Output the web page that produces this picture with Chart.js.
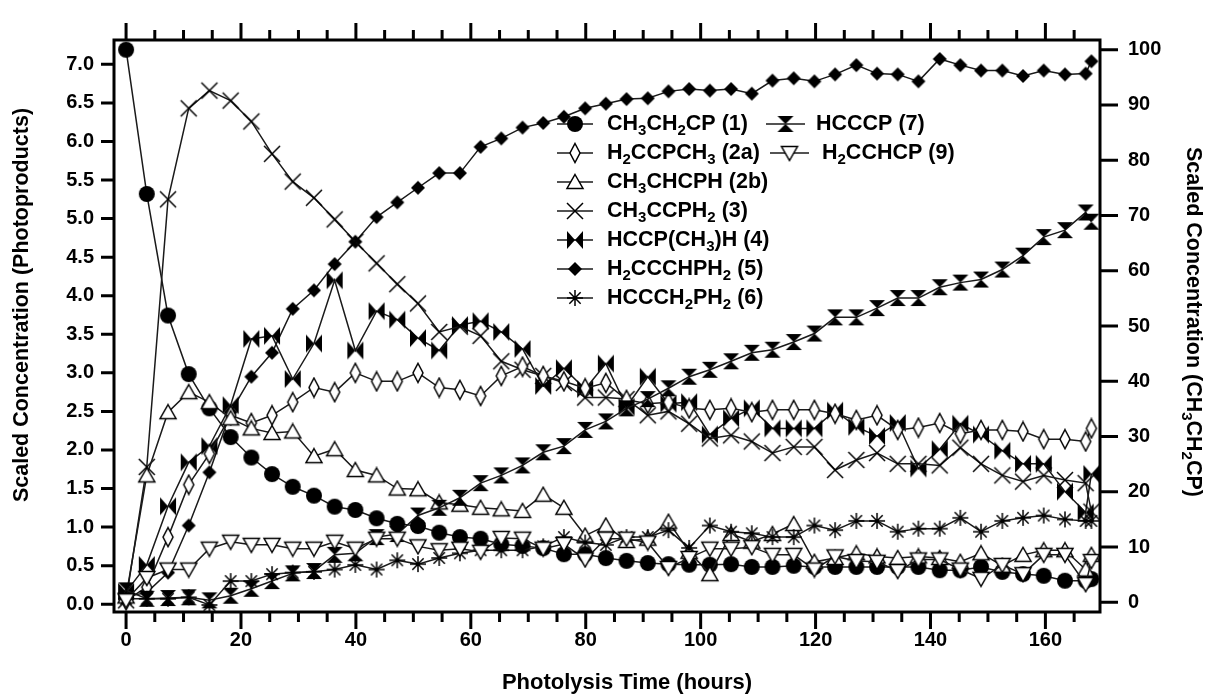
<!DOCTYPE html>
<html>
<head>
<meta charset="utf-8">
<script src="https://cdn.jsdelivr.net/npm/chart.js@4.4.1/dist/chart.umd.min.js"></script>
<style>
html, body { margin: 0; padding: 0; background: #fff; }
#wrap { width: 1207px; height: 697px; position: relative; }
</style>
</head>
<body>
<div id="wrap"><canvas id="chart"></canvas></div>
<script>
// photolysis time (hours)
const hours = [0, 3.6, 7.3, 10.9, 14.5, 18.2, 21.8, 25.4, 29.0, 32.7,
  36.3, 39.9, 43.6, 47.2, 50.8, 54.5, 58.1, 61.7, 65.3, 69.0,
  72.6, 76.2, 79.9, 83.5, 87.1, 90.8, 94.4, 98.0, 101.6, 105.3,
  108.9, 112.5, 116.2, 119.8, 123.4, 127.1, 130.7, 134.3, 137.9, 141.6,
  145.2, 148.8, 152.5, 156.1, 159.7, 163.4, 167.0, 168.0];

// CH3CH2CP (1) - right axis
const s1 = [100, 73.9, 51.9, 41.3, 35.1, 29.9, 26.2, 23.2, 20.9, 19.3,
  17.3, 16.7, 15.2, 14.2, 13.8, 12.6, 11.8, 11.5, 10.5, 10.2,
  9.8, 8.7, 8.7, 8.0, 7.5, 7.1, 6.9, 6.8, 6.8, 6.9,
  6.4, 6.4, 6.6, 6.4, 6.4, 6.4, 6.4, 6.4, 6.4, 5.8,
  5.8, 6.4, 5.5, 5.1, 4.8, 3.9, 3.9, 4.2];
// photoproducts - left axis
const s2a = [0.05, 0.22, 0.87, 1.55, 1.95, 2.45, 2.35, 2.45, 2.62, 2.81,
  2.75, 3.0, 2.89, 2.89, 3.0, 2.81, 2.78, 2.70, 2.96, 3.08,
  2.96, 2.89, 2.80, 2.87, 2.65, 2.6, 2.62, 2.54, 2.52, 2.54,
  2.49, 2.52, 2.52, 2.52, 2.47, 2.39, 2.45, 2.26, 2.29, 2.35,
  2.21, 2.26, 2.26, 2.24, 2.14, 2.14, 2.11, 2.28];
const s2b = [0.1, 1.67, 2.49, 2.75, 2.62, 2.41, 2.28, 2.22, 2.24, 1.92,
  2.01, 1.74, 1.67, 1.50, 1.49, 1.32, 1.29, 1.25, 1.23, 1.21,
  1.42, 1.25, 0.89, 1.02, 0.82, 0.85, 1.07, 0.68, 0.39, 0.91,
  0.81, 0.91, 1.04, 0.55, 0.60, 0.66, 0.62, 0.60, 0.62, 0.60,
  0.55, 0.66, 0.5, 0.64, 0.70, 0.70, 0.45, 0.64];
const s3 = [0.05, 1.78, 5.25, 6.43, 6.66, 6.53, 6.26, 5.84, 5.48, 5.27,
  4.99, 4.70, 4.42, 4.15, 3.90, 3.53, 3.6, 3.48, 3.15, 3.04,
  2.96, 2.87, 2.68, 2.68, 2.66, 2.45, 2.5, 2.34, 2.15, 2.19,
  2.11, 1.96, 2.04, 2.04, 1.74, 1.87, 1.96, 1.82, 1.82, 1.80,
  2.03, 1.82, 1.67, 1.59, 1.67, 1.61, 1.57, 1.2];
const s4 = [0.16, 0.51, 1.27, 1.84, 2.05, 2.58, 3.44, 3.48, 2.92, 3.38,
  4.20, 3.29, 3.80, 3.69, 3.45, 3.29, 3.62, 3.67, 3.53, 3.31,
  2.83, 3.06, 2.79, 3.12, 2.56, 2.95, 2.6, 2.62, 2.2, 2.41,
  2.54, 2.28, 2.28, 2.28, 2.51, 2.30, 2.18, 2.35, 1.76, 2.01,
  2.34, 2.2, 1.99, 1.82, 1.82, 1.46, 1.19, 1.69];
const s5 = [0.1, 0.15, 0.41, 1.02, 1.71, 2.49, 2.95, 3.26, 3.83, 4.07,
  4.41, 4.70, 5.02, 5.21, 5.40, 5.59, 5.59, 5.93, 6.04, 6.18,
  6.24, 6.32, 6.43, 6.49, 6.55, 6.56, 6.65, 6.68, 6.66, 6.68,
  6.62, 6.79, 6.82, 6.78, 6.87, 6.99, 6.88, 6.87, 6.78, 7.07,
  6.99, 6.92, 6.92, 6.85, 6.92, 6.87, 6.88, 7.04];
const s6 = [0.07, 0.07, 0.07, 0.09, -0.01, 0.3, 0.3, 0.39, 0.41, 0.42,
  0.45, 0.51, 0.45, 0.57, 0.52, 0.60, 0.66, 0.70, 0.70, 0.70,
  0.75, 0.87, 0.8, 0.77, 0.87, 0.87, 0.96, 0.73, 1.02, 0.94,
  0.92, 0.87, 0.87, 1.02, 0.96, 1.08, 1.08, 0.94, 0.98, 0.98,
  1.12, 0.94, 1.08, 1.12, 1.15, 1.10, 1.08, 1.08];
const s7 = [0.18, 0.07, 0.08, 0.09, 0.05, 0.11, 0.2, 0.30, 0.40, 0.43,
  0.64, 0.66, 0.87, 0.91, 1.15, 1.25, 1.38, 1.57, 1.67, 1.80,
  1.97, 2.05, 2.26, 2.37, 2.54, 2.66, 2.80, 2.95, 3.04, 3.15,
  3.26, 3.30, 3.40, 3.51, 3.72, 3.72, 3.84, 3.97, 3.97, 4.11,
  4.17, 4.21, 4.34, 4.52, 4.76, 4.85, 5.08, 4.96];
const s9 = [0.05, 0.34, 0.45, 0.45, 0.72, 0.81, 0.77, 0.77, 0.72, 0.72,
  0.81, 0.72, 0.85, 0.85, 0.75, 0.70, 0.72, 0.68, 0.86, 0.85,
  0.72, 0.78, 0.58, 0.85, 0.85, 0.8, 0.47, 0.6, 0.72, 0.72,
  0.74, 0.64, 0.64, 0.45, 0.62, 0.56, 0.55, 0.43, 0.58, 0.58,
  0.45, 0.33, 0.51, 0.39, 0.64, 0.64, 0.26, 0.56];

const xTicks = [0, 20, 40, 60, 80, 100, 120, 140, 160];
const leftTicks = [0, 0.5, 1, 1.5, 2, 2.5, 3, 3.5, 4, 4.5, 5, 5.5, 6, 6.5, 7];
const rightTicks = [0, 10, 20, 30, 40, 50, 60, 70, 80, 90, 100];

const FONT = '"Liberation Sans", Arial, sans-serif';

// marker images, drawn by Chart.js as pointStyle
function marker(w, h, draw) {
    const c = document.createElement('canvas');
    c.width = w; c.height = h;
    const g = c.getContext('2d');
    g.translate(w / 2, h / 2);
    g.lineWidth = 1.5;
    g.strokeStyle = '#000';
    g.fillStyle = '#000';
    draw(g);
    return c;
}
function poly(g, p, fill) {
    g.beginPath();
    g.moveTo(p[0][0], p[0][1]);
    for (let i = 1; i < p.length; i++) g.lineTo(p[i][0], p[i][1]);
    g.closePath();
    if (fill === 'white') { g.fillStyle = '#fff'; g.fill(); g.fillStyle = '#000'; g.stroke(); }
    else { g.fill(); }
}
const mk = {
    circle: marker(18, 18, g => { g.beginPath(); g.arc(0, 0, 8, 0, Math.PI * 2); g.fill(); }),
    thinDiamond: marker(14, 22, g => poly(g, [[0, -9.5], [5, 0], [0, 9.5], [-5, 0]], 'white')),
    triUp: marker(20, 18, g => poly(g, [[0, -7.5], [8, 6.5], [-8, 6.5]], 'white')),
    cross: marker(20, 20, g => {
        g.beginPath(); g.moveTo(-8, -8); g.lineTo(8, 8); g.moveTo(-8, 8); g.lineTo(8, -8); g.stroke();
    }),
    bowtie: marker(20, 20, g => {
        poly(g, [[-8, -9], [0, 0], [-8, 9]]); poly(g, [[8, -9], [0, 0], [8, 9]]);
    }),
    diamond: marker(16, 16, g => poly(g, [[0, -7], [7, 0], [0, 7], [-7, 0]])),
    star: marker(20, 20, g => {
        g.beginPath();
        for (let a = 0; a < 4; a++) {
            const r = a * Math.PI / 4;
            g.moveTo(-8 * Math.cos(r), -8 * Math.sin(r));
            g.lineTo(8 * Math.cos(r), 8 * Math.sin(r));
        }
        g.stroke();
    }),
    hourglass: marker(20, 20, g => {
        poly(g, [[-8, -8], [8, -8], [0, 0]]); poly(g, [[-8, 8], [8, 8], [0, 0]]);
    }),
    triDown: marker(20, 18, g => poly(g, [[-8, -6.5], [8, -6.5], [0, 7.5]], 'white'))
};

function pts(vals) {
    return hours.map((t, i) => ({ x: t, y: vals[i] }));
}
function series(label, vals, style, axis) {
    return {
        label: label,
        data: pts(vals),
        yAxisID: axis || 'yL',
        borderColor: '#1a1a1a',
        borderWidth: 1.5,
        pointStyle: style,
        pointRadius: 8,
        showLine: true,
        fill: false,
        tension: 0
    };
}

const datasets = [
    series('H_2CCHCP (9)', s9, mk.triDown),
    series('HCCCH_2PH_2 (6)', s6, mk.star),
    series('HCCCP (7)', s7, mk.hourglass),
    series('CH_3CHCPH (2b)', s2b, mk.triUp),
    series('H_2CCPCH_3 (2a)', s2a, mk.thinDiamond),
    series('CH_3CCPH_2 (3)', s3, mk.cross),
    series('HCCP(CH_3)H (4)', s4, mk.bowtie),
    series('H_2CCCHPH_2 (5)', s5, mk.diamond),
    series('CH_3CH_2CP (1)', s1, mk.circle, 'yR')
];

// text with '_d' subscripts
function drawRich(ctx, s, x, y, size, align) {
    const parts = [];
    let buf = '';
    for (let i = 0; i < s.length; i++) {
        if (s[i] === '_') {
            if (buf) parts.push({ t: buf, sub: false });
            buf = '';
            parts.push({ t: s[i + 1], sub: true });
            i++;
        } else buf += s[i];
    }
    if (buf) parts.push({ t: buf, sub: false });
    const big = 'bold ' + size + 'px ' + FONT;
    const small = 'bold ' + Math.round(size * 0.68) + 'px ' + FONT;
    let w = 0;
    parts.forEach(p => { ctx.font = p.sub ? small : big; p.w = ctx.measureText(p.t).width; w += p.w; });
    let cx = align === 'center' ? x - w / 2 : x;
    ctx.textBaseline = 'middle';
    ctx.textAlign = 'left';
    ctx.fillStyle = '#000';
    parts.forEach(p => {
        ctx.font = p.sub ? small : big;
        ctx.fillText(p.t, cx, p.sub ? y + size * 0.32 : y);
        cx += p.w;
    });
}

const legendItems = [
    { label: 'CH_3CH_2CP (1)', x0: 557, x1: 593, tx: 607, y: 124 },
    { label: 'H_2CCPCH_3 (2a)', x0: 557, x1: 593, tx: 607, y: 153 },
    { label: 'CH_3CHCPH (2b)', x0: 557, x1: 593, tx: 607, y: 182 },
    { label: 'CH_3CCPH_2 (3)', x0: 557, x1: 593, tx: 607, y: 211 },
    { label: 'HCCP(CH_3)H (4)', x0: 557, x1: 593, tx: 607, y: 240 },
    { label: 'H_2CCCHPH_2 (5)', x0: 557, x1: 593, tx: 607, y: 269 },
    { label: 'HCCCH_2PH_2 (6)', x0: 557, x1: 593, tx: 607, y: 298 },
    { label: 'HCCCP (7)', x0: 766, x1: 805, tx: 816, y: 124 },
    { label: 'H_2CCHCP (9)', x0: 770, x1: 809, tx: 822, y: 153 }
];

const framePlugin = {
    id: 'frame',
    afterDraw(chart) {
        const ctx = chart.ctx;
        const a = chart.chartArea;
        const xs = chart.scales.x, yl = chart.scales.yL, yr = chart.scales.yR;
        ctx.save();
        ctx.strokeStyle = '#000';
        ctx.lineWidth = 3;
        ctx.strokeRect(a.left, a.top, a.right - a.left, a.bottom - a.top);
        ctx.beginPath();
        for (let v = 0; v <= 165; v += 5) {
            const px = xs.getPixelForValue(v);
            const len = v % 20 === 0 ? 17 : 10;
            ctx.moveTo(px, a.bottom); ctx.lineTo(px, a.bottom + len);
            ctx.moveTo(px, a.top); ctx.lineTo(px, a.top - len);
        }
        leftTicks.forEach(v => {
            const py = yl.getPixelForValue(v);
            ctx.moveTo(a.left, py); ctx.lineTo(a.left - 13, py);
        });
        rightTicks.forEach(v => {
            const py = yr.getPixelForValue(v);
            ctx.moveTo(a.right, py); ctx.lineTo(a.right + 18, py);
        });
        ctx.stroke();

        // axis titles
        drawRich(ctx, 'Photolysis Time (hours)', 627, 683, 22, 'center');
        ctx.save();
        ctx.translate(22, 305);
        ctx.rotate(-Math.PI / 2);
        drawRich(ctx, 'Scaled Concentration (Photoproducts)', 0, 0, 21.5, 'center');
        ctx.restore();
        ctx.save();
        ctx.translate(1193, 322);
        ctx.rotate(Math.PI / 2);
        drawRich(ctx, 'Scaled Concentration (CH_3CH_2CP)', 0, 0, 21.5, 'center');
        ctx.restore();

        // legend
        legendItems.forEach(it => {
            const ds = chart.data.datasets.find(d => d.label === it.label);
            ctx.lineWidth = 1.5;
            ctx.strokeStyle = '#1a1a1a';
            ctx.beginPath();
            ctx.moveTo(it.x0, it.y); ctx.lineTo(it.x1, it.y);
            ctx.stroke();
            const img = ds.pointStyle;
            ctx.drawImage(img, (it.x0 + it.x1) / 2 - img.width / 2, it.y - img.height / 2);
            drawRich(ctx, it.label, it.tx, it.y, 21.5, 'left');
        });
        ctx.restore();
    }
};

function fixTicks(list) {
    return function (scale) { scale.ticks = list.map(v => ({ value: v })); };
}
const tickFont = { family: FONT, size: 20, weight: 'bold' };

new Chart(document.getElementById('chart').getContext('2d'), {
    type: 'scatter',
    data: { datasets: datasets },
    options: {
        responsive: true,
        maintainAspectRatio: false,
        animation: false,
        layout: { padding: { top: 25, left: 0, right: 0, bottom: 0 } },
        plugins: { legend: { display: false }, tooltip: { enabled: false } },
        scales: {
            x: {
                type: 'linear',
                position: 'bottom',
                min: -2.1,
                max: 169.5,
                afterBuildTicks: fixTicks(xTicks),
                afterFit: s => { s.height = 85; },
                grid: { display: false, drawTicks: false },
                border: { display: false },
                ticks: { font: tickFont, color: '#000', padding: 16, autoSkip: false, maxRotation: 0 }
            },
            yL: {
                type: 'linear',
                position: 'left',
                min: -0.101,
                max: 7.316,
                afterBuildTicks: fixTicks(leftTicks),
                afterFit: s => { s.width = 114; },
                grid: { display: false, drawTicks: false },
                border: { display: false },
                ticks: { font: tickFont, color: '#000', padding: 20, autoSkip: false, callback: v => v.toFixed(1) }
            },
            yR: {
                type: 'linear',
                position: 'right',
                min: -1.76,
                max: 101.76,
                afterBuildTicks: fixTicks(rightTicks),
                afterFit: s => { s.width = 107; },
                grid: { display: false, drawTicks: false },
                border: { display: false },
                ticks: { font: tickFont, color: '#000', padding: 28, autoSkip: false }
            }
        }
    },
    plugins: [framePlugin]
});
</script>
</body>
</html>
